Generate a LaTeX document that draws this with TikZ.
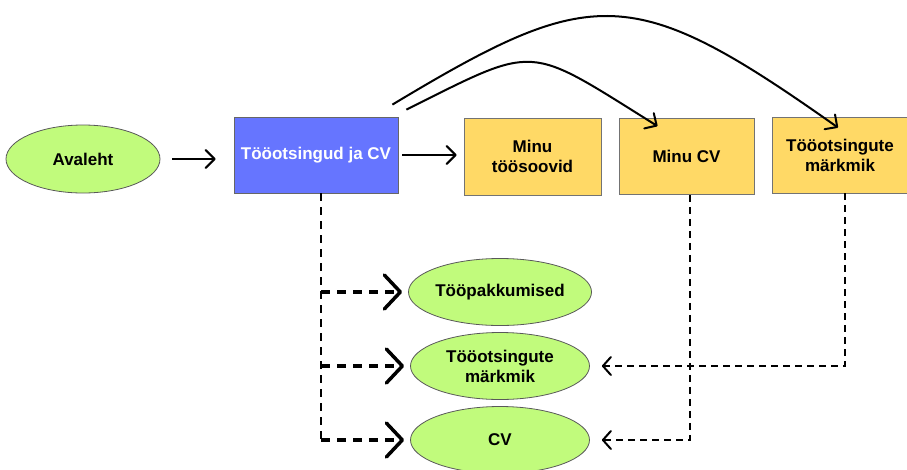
\documentclass[tikz,border=0pt]{standalone}
\usepackage{fontspec}
\newfontfamily\labelfont{Liberation Sans}
\usetikzlibrary{shapes.geometric,arrows.meta,calc}
\definecolor{leafgreen}{HTML}{C1FB7C}
\definecolor{boxblue}{HTML}{6675FF}
\definecolor{boxyellow}{HTML}{FFD966}
\tikzset{
  lbl/.style={font=\labelfont\bfseries\fontsize{17}{20}\selectfont, align=center, text=black},
  oval/.style={lbl, ellipse, draw=black!65, line width=0.8pt, fill=leafgreen, inner sep=0pt, minimum width=179pt, minimum height=67pt},
  page/.style={lbl, rectangle, draw=black!55, line width=0.8pt, fill=boxyellow, inner sep=0pt, minimum width=136pt, minimum height=76pt},
  link/.style={line width=2pt, -{Straight Barb[length=9pt, width=18pt, round]}},
  trunk/.style={line width=2pt, dash pattern=on 8pt off 6pt},
  bold link/.style={line width=3.5pt, dash pattern=on 9pt off 7pt, -{Straight Barb[length=16pt, width=34pt, round]}},
  back link/.style={line width=2pt, dash pattern=on 7pt off 5pt, -{Straight Barb[length=8pt, width=18pt, round]}}
}
\begin{document}
\begin{tikzpicture}[x=1pt, y=-1pt]
  \useasboundingbox (0,0) rectangle (907,469);

  % home page and the job-search hub
  \node[oval, minimum width=154pt, minimum height=68pt] (home) at (83,159) {Avaleht};
  \node[lbl, rectangle, draw=black!60, line width=0.8pt, fill=boxblue, text=white,
        inner sep=0pt, minimum width=164pt, minimum height=76pt] (hub) at (316,155) {Tööotsingud ja CV};

  % personal pages
  \node[page, minimum width=137pt, minimum height=77pt] (wishes) at (532.5,156.5) {Minu\\töösoovid};
  \node[page, minimum width=135pt] (mycv) at (686.5,156.5) {Minu CV};
  \node[page] (notes) at (840,155) {Tööotsingute\\märkmik};

  % sub-pages reached from the hub
  \node[oval] (offers) at (500,292) {Tööpakkumised};
  \node[oval] (subnotes) at (500,366) {Tööotsingute\\märkmik};
  \node[oval] (subcv) at (500,440) {CV};

  % main navigation
  \draw[link, shorten <=12pt, shorten >=18pt] (home.east) -- (hub.west |- home.east);
  \draw[link, shorten <=4pt, shorten >=7pt] (hub.east) -- (wishes.west |- hub.east);

  % arcs over the row of pages
  \coordinate (arcA) at ([shift={(8pt,7pt)}]hub.north east);
  \coordinate (arcB) at ([shift={(-6pt,12pt)}]hub.north east);
  \coordinate (tipA) at ([shift={(-29pt,-8pt)}]mycv.north);
  \coordinate (tipB) at ([shift={(-2pt,-11pt)}]notes.north);
  \draw[link] (arcA) .. controls (539,43.5) and (525,43.5) .. (tipA);
  \draw[link] (arcB) .. controls (593,-16) and (632,-18) .. (tipB);

  % dashed trunk down from the hub
  \coordinate (stem) at ([xshift=5pt]hub.south);
  \draw[trunk] (stem) -- (stem |- subcv.west);
  \draw[bold link, shorten >=6pt] (stem |- offers.west) -- (offers.west);
  \draw[bold link, shorten >=6pt] (stem |- subnotes.west) -- (subnotes.west);
  \draw[bold link, shorten >=6pt] (stem |- subcv.west) -- (subcv.west);

  % links back from the personal pages
  \draw[back link, shorten >=12pt] ([xshift=3pt]mycv.south) |- (subcv.east);
  \draw[back link, shorten >=12pt] ([xshift=5pt]notes.south) |- (subnotes.east);
\end{tikzpicture}
\end{document}
